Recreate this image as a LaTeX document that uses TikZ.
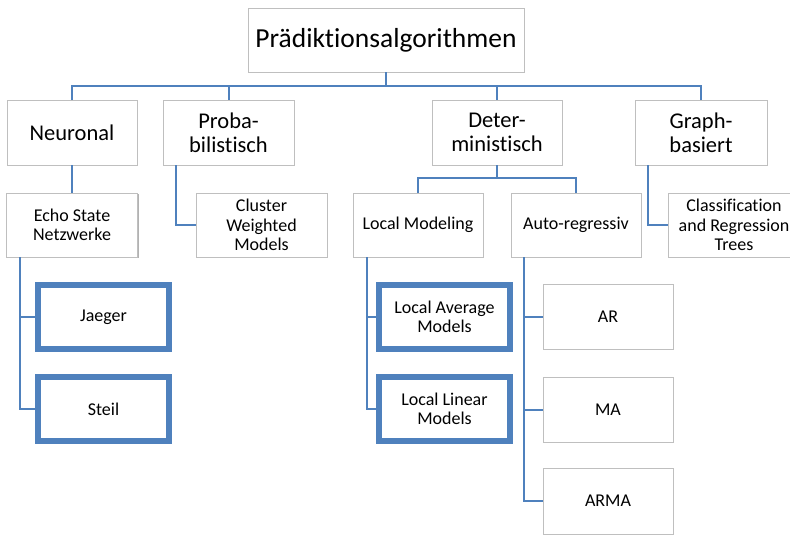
\documentclass[tikz,border=0pt]{standalone}
\usepackage{fontspec}
\setmainfont{Carlito}[Ligatures={NoCommon}]
\usetikzlibrary{shadows,calc}
\definecolor{linkblue}{HTML}{4F81BD}
\definecolor{boxgrey}{HTML}{BFBFBF}

\begin{document}
\begin{tikzpicture}[x=1pt,y=-1pt,
  box/.style={draw=boxgrey, line width=0.8pt, fill=white, align=center, inner sep=2pt,
    drop shadow={shadow xshift=1.3pt, shadow yshift=-1.3pt, opacity=0.3, fill=black}},
  titlebox/.style={box, minimum width=276pt, minimum height=64pt, font=\fontsize{27.5}{30}\selectfont},
  catbox/.style={box, minimum width=130pt, minimum height=65pt, font=\fontsize{22.5}{24}\selectfont},
  subbox/.style={box, minimum width=130pt, minimum height=64pt, font=\fontsize{18}{19.5}\selectfont},
  leafbox/.style={draw=linkblue, line width=6pt, fill=white, align=center, inner sep=2pt,
    minimum width=131pt, minimum height=64pt, font=\fontsize{18}{19.5}\selectfont,
    drop shadow={shadow xshift=2pt, shadow yshift=-2pt, opacity=0.3, fill=black}},
  link/.style={draw=linkblue, line width=2pt}
]
\useasboundingbox (0,0) rectangle (790,536);
\clip (0,0) rectangle (790,536);

% root
\node[titlebox] (root) at (386,40) {Prädiktionsalgorithmen};

% first level
\node[catbox] (neur) at (72,132.5) {Neuronal};
\node[catbox, minimum width=131pt] (prob) at (228.5,132.5) {Proba-\\bilistisch};
\node[catbox] (det) at (497,132.5) {Deter-\\ministisch};
\node[catbox, minimum width=132pt] (graph) at (701,132.5) {Graph-\\basiert};

% second level
\node[subbox, minimum width=131pt] (esn) at (72,225) {Echo State\\Netzwerke};
\node[subbox, minimum width=131pt] (cwm) at (261.5,225) {Cluster\\Weighted\\Models};
\node[subbox] (lm) at (418,225) {Local Modeling};
\node[subbox] (autoreg) at (576,225) {Auto-regressiv};
\node[subbox, minimum width=132pt] (cart) at (734,225) {Classification\\and Regression\\Trees};

% leaves
\node[leafbox] (jaeger) at (103.5,317) {Jaeger};
\node[leafbox] (steil) at (103.5,409) {Steil};
\node[leafbox] (lam) at (444.5,317) {Local Average\\Models};
\node[leafbox] (llm) at (444.5,409) {Local Linear\\Models};
\node[subbox, minimum height=65pt] (ar) at (608,316.5) {AR};
\node[subbox, minimum height=65pt] (ma) at (608,409.5) {MA};
\node[subbox, minimum height=66pt] (arma) at (608,501) {ARMA};

% connectors from the root
\coordinate (bus) at (386,86);
\draw[link] (root.south) -- (bus);
\draw[link] (neur.north) |- (bus);
\draw[link] (prob.north) |- (bus);
\draw[link] (det.north) |- (bus);
\draw[link] (graph.north) |- (bus);

% first level to second level
\draw[link] (neur.south) -- (esn.north);
\draw[link] ($(prob.south west)+(13,0)$) |- (cwm.west);
\coordinate (dbus) at (497,178);
\draw[link] (det.south) -- (dbus);
\draw[link] (lm.north) |- (dbus);
\draw[link] (autoreg.north) |- (dbus);
\draw[link] ($(graph.south west)+(13,0)$) |- (cart.west);

% second level to leaves
\draw[link] ($(esn.south west)+(14,0)$) coordinate (e0) |- (steil.west);
\draw[link] (e0 |- jaeger.west) -- (jaeger.west);
\draw[link] ($(lm.south west)+(14,0)$) coordinate (l0) |- (llm.west);
\draw[link] (l0 |- lam.west) -- (lam.west);
\draw[link] ($(autoreg.south west)+(13,0)$) coordinate (a0) |- (arma.west);
\draw[link] (a0 |- ar.west) -- (ar.west);
\draw[link] (a0 |- ma.west) -- (ma.west);
\end{tikzpicture}
\end{document}
